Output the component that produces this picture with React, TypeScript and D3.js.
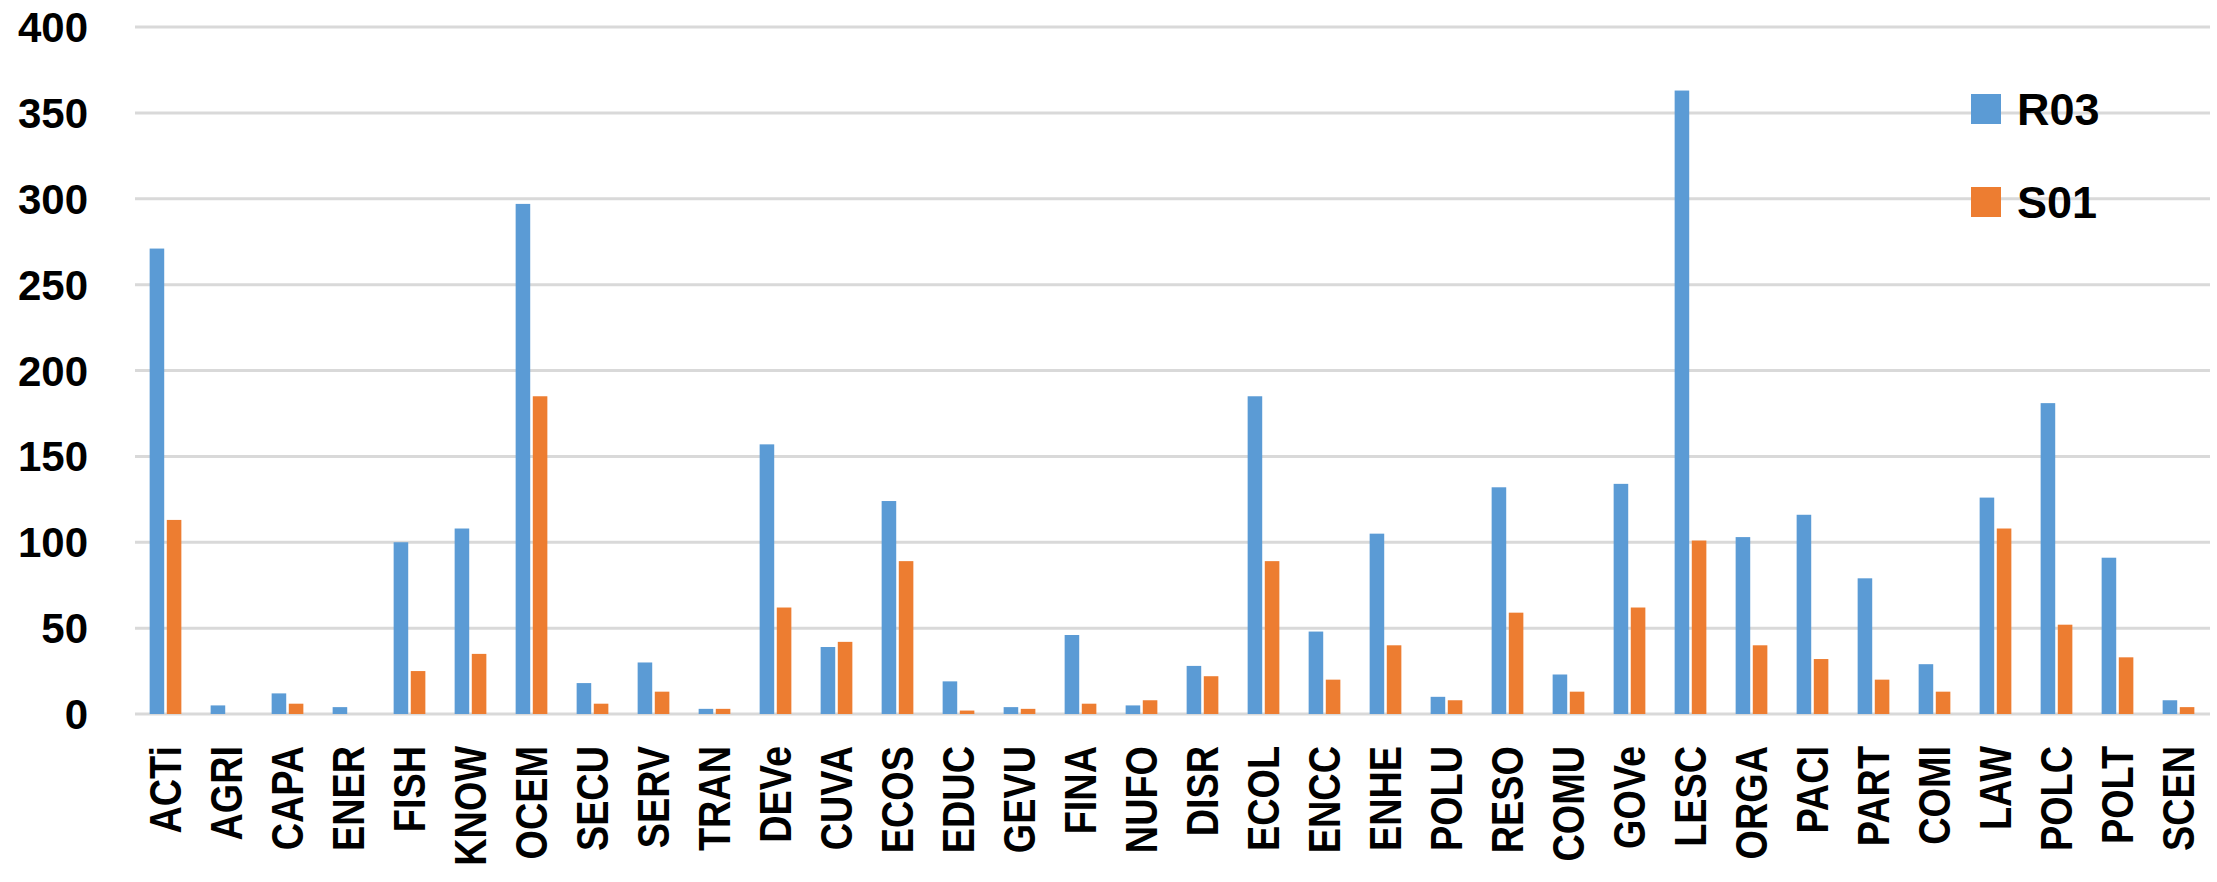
import * as d3 from "d3";
import React, { useRef, useEffect } from "react";

const categories = [
  "ACTi", "AGRI", "CAPA", "ENER", "FISH", "KNOW", "OCEM", "SECU", "SERV", "TRAN",
  "DEVe", "CUVA", "ECOS", "EDUC", "GEVU", "FINA", "NUFO", "DISR", "ECOL", "ENCC",
  "ENHE", "POLU", "RESO", "COMU", "GOVe", "LESC", "ORGA", "PACI", "PART", "COMI",
  "LAW", "POLC", "POLT", "SCEN",
];

const r03 = [
  271, 5, 12, 4, 100, 108, 297, 18, 30, 3,
  157, 39, 124, 19, 4, 46, 5, 28, 185, 48,
  105, 10, 132, 23, 134, 363, 103, 116, 79, 29,
  126, 181, 91, 8,
];
const s01 = [
  113, 0, 6, 0, 25, 35, 185, 6, 13, 3,
  62, 42, 89, 2, 3, 6, 8, 22, 89, 20,
  40, 8, 59, 13, 62, 101, 40, 32, 20, 13,
  108, 52, 33, 4,
];

const seriesNames = ["R03", "S01"];
const colors = ["#5B9BD5", "#ED7D31"];
const yTicks = [0, 50, 100, 150, 200, 250, 300, 350, 400];

const W = 2217;
const H = 882;
const FONT = "'Liberation Sans', Arial, sans-serif";

export default function App() {
  const ref = useRef<SVGSVGElement>(null);

  useEffect(() => {
    const svg = d3.select(ref.current);
    svg.selectAll("*").remove();

    const x = d3
      .scaleBand<string>()
      .domain(categories)
      .range([135, 2209])
      .paddingInner(0.48)
      .paddingOuter(0.24);
    const xs = d3
      .scaleBand<string>()
      .domain(seriesNames)
      .range([0, x.bandwidth()])
      .paddingInner(0.15);
    const y = d3.scaleLinear().domain([0, 400]).range([714, 27]);

    // gridlines
    svg
      .append("g")
      .selectAll("line")
      .data(yTicks)
      .enter()
      .append("line")
      .attr("x1", 135)
      .attr("x2", 2210)
      .attr("y1", d => y(d))
      .attr("y2", d => y(d))
      .attr("stroke", "#D9D9D9")
      .attr("stroke-width", 3);

    // y labels
    svg
      .append("g")
      .selectAll("text")
      .data(yTicks)
      .enter()
      .append("text")
      .attr("x", 88)
      .attr("y", d => y(d))
      .attr("dy", "0.36em")
      .attr("text-anchor", "end")
      .attr("font-family", FONT)
      .attr("font-weight", "bold")
      .attr("font-size", 42)
      .attr("fill", "#000")
      .text(d => d);

    const series = [r03, s01];
    series.forEach((vals, si) => {
      svg
        .append("g")
        .selectAll("rect")
        .data(vals)
        .enter()
        .append("rect")
        .attr("x", (d, i) => x(categories[i])! + xs(seriesNames[si])!)
        .attr("y", d => y(d))
        .attr("width", xs.bandwidth())
        .attr("height", d => y(0) - y(d))
        .attr("fill", colors[si]);
    });

    // x labels (narrowed a bit, the original font is condensed)
    svg
      .append("g")
      .selectAll("text")
      .data(categories)
      .enter()
      .append("text")
      .attr(
        "transform",
        d =>
          `translate(${x(d)! + x.bandwidth() / 2},746) rotate(-90) scale(0.86,1)`
      )
      .attr("dy", "0.36em")
      .attr("text-anchor", "end")
      .attr("font-family", FONT)
      .attr("font-weight", "bold")
      .attr("font-size", 44)
      .attr("fill", "#000")
      .text(d => d);

    // legend
    const legend = svg.append("g");
    seriesNames.forEach((name, i) => {
      legend
        .append("rect")
        .attr("x", 1971)
        .attr("y", 94 + i * 93)
        .attr("width", 30)
        .attr("height", 30)
        .attr("fill", colors[i]);
      legend
        .append("text")
        .attr("x", 2017)
        .attr("y", 125 + i * 93)
        .attr("font-family", FONT)
        .attr("font-weight", "bold")
        .attr("font-size", 45)
        .attr("fill", "#000")
        .text(name);
    });
  }, []);

  return (
    <svg
      ref={ref}
      width={W}
      height={H}
      style={{ position: "absolute", left: 0, top: 0, background: "#fff" }}
    ></svg>
  );
}
